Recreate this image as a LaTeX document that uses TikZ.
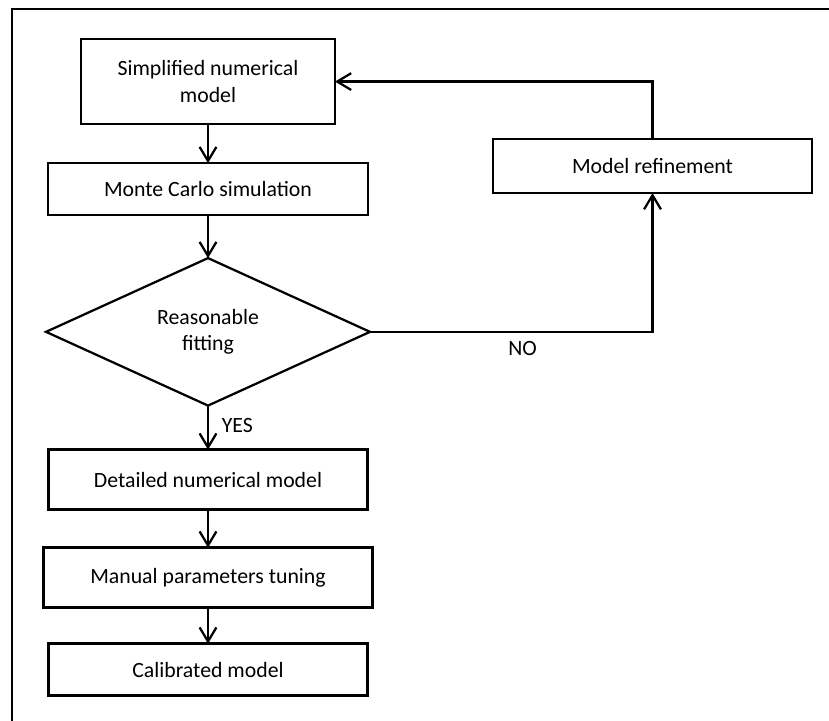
\documentclass[tikz,border=0pt]{standalone}
\usepackage{fontspec}
\setmainfont{Carlito}
\usetikzlibrary{positioning, shapes.geometric, arrows.meta}

\begin{document}
\begin{tikzpicture}[
        box/.style={draw, rectangle, align=center, outer sep=0pt, line width=1.6pt, font=\fontsize{15.5}{19}\selectfont},
        decision/.style={draw, diamond, align=center, inner sep=0pt, outer sep=0pt, minimum width=8.1cm, minimum height=3.6cm, line width=1.6pt, font=\fontsize{15.5}{19}\selectfont},
        arrow/.style={-{Straight Barb[length=0.35cm, width=0.42cm]}, line width=1.6pt},
        lbl/.style={font=\fontsize{15.5}{19}\selectfont}
    ]
    \useasboundingbox (0,0) rectangle (20.725,-18.025);
    \draw[line width=1.8pt] (20.725,-0.225) -- (0.3,-0.225) -- (0.3,-18.025);

    \node[box, minimum width=6.35cm, minimum height=2.125cm] (simp) at (5.2,-2.04) {Simplified numerical\\model};
    \node[box, below=0.975cm of simp, minimum width=8cm, minimum height=1.3cm] (monte) {Monte Carlo simulation};
    \node[decision, below=1.075cm of monte] (fit) {Reasonable\\fitting};
    \node[box, below=1.1cm of fit, minimum width=7.975cm, minimum height=1.5cm] (detail) {Detailed numerical model};
    \node[box, below=0.95cm of detail, minimum width=8.225cm, minimum height=1.5cm] (tune) {Manual parameters tuning};
    \node[box, below=0.9cm of tune, minimum width=7.975cm, minimum height=1.3cm] (calib) {Calibrated model};
    \node[box, below right=0.375cm and 3.95cm of simp, minimum width=7.975cm, minimum height=1.35cm] (refine) {Model refinement};

    \draw[arrow] (simp) -- (monte);
    \draw[arrow] (monte) -- (fit);
    \draw[arrow] (fit) -- node[lbl, right=0.2cm, pos=0.45] {YES} (detail);
    \draw[arrow] (detail) -- (tune);
    \draw[arrow] (tune) -- (calib);
    \draw[arrow] (fit.east) -| node[lbl, below=0.1cm, pos=0.27] {NO} (refine.south);
    \draw[arrow] (refine.north) |- (simp.east);
\end{tikzpicture}
\end{document}
